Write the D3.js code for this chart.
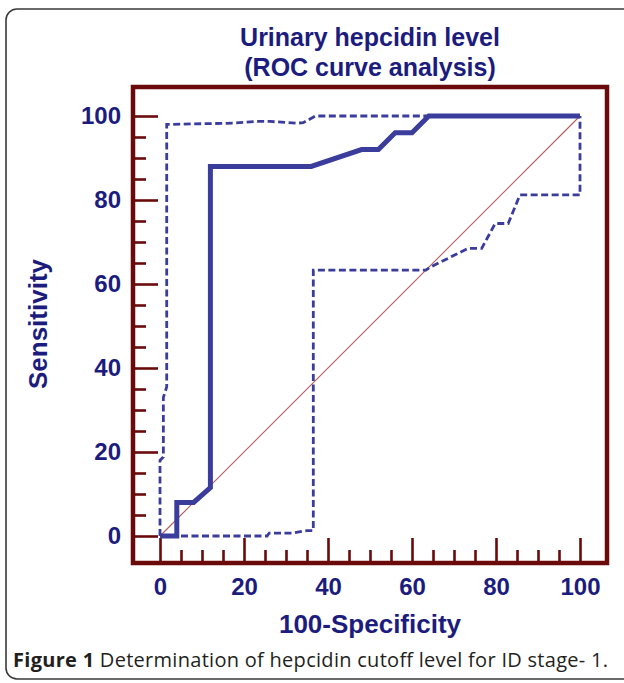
<!DOCTYPE html>
<html>
<head>
<meta charset="utf-8">
<script src="https://cdn.jsdelivr.net/npm/d3@7"></script>
<style>
  html, body { margin: 0; padding: 0; background: #fff; }
  svg { display: block; }
</style>
</head>
<body>
<svg id="chart" width="624" height="683"></svg>
<script>
// ---- Data ----
const titleLines = ["Urinary hepcidin level", "(ROC curve analysis)"];
const xTitle = "100-Specificity";
const yTitle = "Sensitivity";
const captionBold = "Figure 1";
const captionText = " Determination of hepcidin cutoff level for ID stage- 1.";

const majorTicks = [0, 20, 40, 60, 80, 100];
const minorTicks = [5, 10, 15, 25, 30, 35, 45, 50, 55, 65, 70, 75, 85, 90, 95];

// ROC curve (100-Specificity, Sensitivity)
const rocX = [0, 4, 4, 8, 12, 12, 36, 48, 52, 56, 60, 64, 100];
const rocY = [0, 0, 8, 8, 11.5, 88, 88, 92, 92, 96, 96, 100, 100];

// Upper 95% confidence bound
const upperX = [0, 0, 0.8, 0.8, 1.6, 1.6, 17.5, 23, 26.2, 32.5, 34.1, 37, 100];
const upperY = [0, 18, 18.8, 33, 35.5, 98, 98.3, 98.7, 98.7, 98.3, 98.4, 100, 100];

// Lower 95% confidence bound
const lowerX = [0, 25.5, 26, 31.5, 35, 36.5, 36.5, 63.3, 64.3, 73.4, 76.6, 79.8, 82.9, 85.7, 100, 100];
const lowerY = [0, 0, 0.7, 0.7, 1.3, 1.3, 63.3, 63.3, 64, 68.5, 68.5, 74.4, 74.4, 81.2, 81.2, 100];

// Reference diagonal
const diagX = [0, 100];
const diagY = [0, 100];

// ---- Layout ----
const svg = d3.select("#chart");
const navy = "#1c1c7e";
const maroon = "#6a0a0a";
const curveColor = "#3b3d9c";
const font = "Arial, 'Liberation Sans', sans-serif";

const frame = { left: 133, top: 87, right: 607, bottom: 563 };
const x = d3.scaleLinear().domain([0, 100]).range([160, 580]);
const y = d3.scaleLinear().domain([0, 100]).range([536, 116]);

// Outer rounded box
svg.append("rect")
  .attr("x", 6).attr("y", 9)
  .attr("width", 650).attr("height", 670)
  .attr("rx", 11).attr("ry", 11)
  .attr("fill", "none")
  .attr("stroke", "#3a3a3a")
  .attr("stroke-width", 1.6);

// Title
svg.append("g").selectAll("text")
  .data(titleLines).join("text")
  .attr("x", (frame.left + frame.right) / 2)
  .attr("y", (d, i) => 46 + i * 30)
  .attr("text-anchor", "middle")
  .attr("font-family", font)
  .attr("font-weight", "bold")
  .attr("font-size", 25)
  .attr("fill", navy)
  .text(d => d);

// Axes (ticks pointing inward from the frame)
function styleAxis(g) {
  g.select(".domain").remove();
  g.selectAll("line").attr("stroke", maroon).attr("stroke-width", 2.6);
  g.selectAll("text")
    .attr("font-family", font)
    .attr("font-weight", "bold")
    .attr("font-size", 24)
    .attr("fill", navy);
}

svg.append("g")
  .attr("transform", `translate(${frame.left},0)`)
  .call(d3.axisLeft(y).tickValues(minorTicks).tickSize(-13).tickFormat(""))
  .call(styleAxis);
svg.append("g")
  .attr("transform", `translate(${frame.left},0)`)
  .call(d3.axisLeft(y).tickValues(majorTicks).tickSize(-25).tickPadding(12).tickFormat(d3.format("d")))
  .call(styleAxis);

svg.append("g")
  .attr("transform", `translate(0,${frame.bottom})`)
  .call(d3.axisBottom(x).tickValues(minorTicks).tickSize(-13).tickFormat(""))
  .call(styleAxis);
svg.append("g")
  .attr("transform", `translate(0,${frame.bottom})`)
  .call(d3.axisBottom(x).tickValues(majorTicks).tickSize(-25).tickPadding(15).tickFormat(d3.format("d")))
  .call(styleAxis);

// Reference diagonal
const line = d3.line().x(d => x(d[0])).y(d => y(d[1]));
svg.append("path")
  .datum(d3.zip(diagX, diagY))
  .attr("d", line)
  .attr("fill", "none")
  .attr("stroke", "#b35a5a")
  .attr("stroke-width", 1.1);

// Confidence bounds (dashed)
[[lowerX, lowerY], [upperX, upperY]].forEach(([xs, ys]) => {
  svg.append("path")
    .datum(d3.zip(xs, ys))
    .attr("d", line)
    .attr("fill", "none")
    .attr("stroke", curveColor)
    .attr("stroke-width", 2.8)
    .attr("stroke-dasharray", "7,3.5");
});

// ROC curve (solid)
svg.append("path")
  .datum(d3.zip(rocX, rocY))
  .attr("d", line)
  .attr("fill", "none")
  .attr("stroke", curveColor)
  .attr("stroke-width", 5)
  .attr("stroke-linejoin", "miter");

// Frame
svg.append("rect")
  .attr("x", frame.left).attr("y", frame.top)
  .attr("width", frame.right - frame.left)
  .attr("height", frame.bottom - frame.top)
  .attr("fill", "none")
  .attr("stroke", maroon)
  .attr("stroke-width", 4.5);

// Axis titles
svg.append("text")
  .attr("x", (frame.left + frame.right) / 2)
  .attr("y", 633)
  .attr("text-anchor", "middle")
  .attr("font-family", font)
  .attr("font-weight", "bold")
  .attr("font-size", 26)
  .attr("fill", navy)
  .text(xTitle);

svg.append("text")
  .attr("transform", "translate(47,324) rotate(-90)")
  .attr("text-anchor", "middle")
  .attr("font-family", font)
  .attr("font-weight", "bold")
  .attr("font-size", 26)
  .attr("fill", navy)
  .text(yTitle);

// Caption
const cap = svg.append("text")
  .attr("x", 13)
  .attr("y", 667)
  .attr("font-family", "'Open Sans', 'Noto Sans', sans-serif")
  .attr("font-size", 20)
  .attr("textLength", 595)
  .attr("lengthAdjust", "spacing")
  .attr("fill", "#231f20");
cap.append("tspan").attr("font-weight", "bold").text(captionBold);
cap.append("tspan").text(captionText);
</script>
</body>
</html>
